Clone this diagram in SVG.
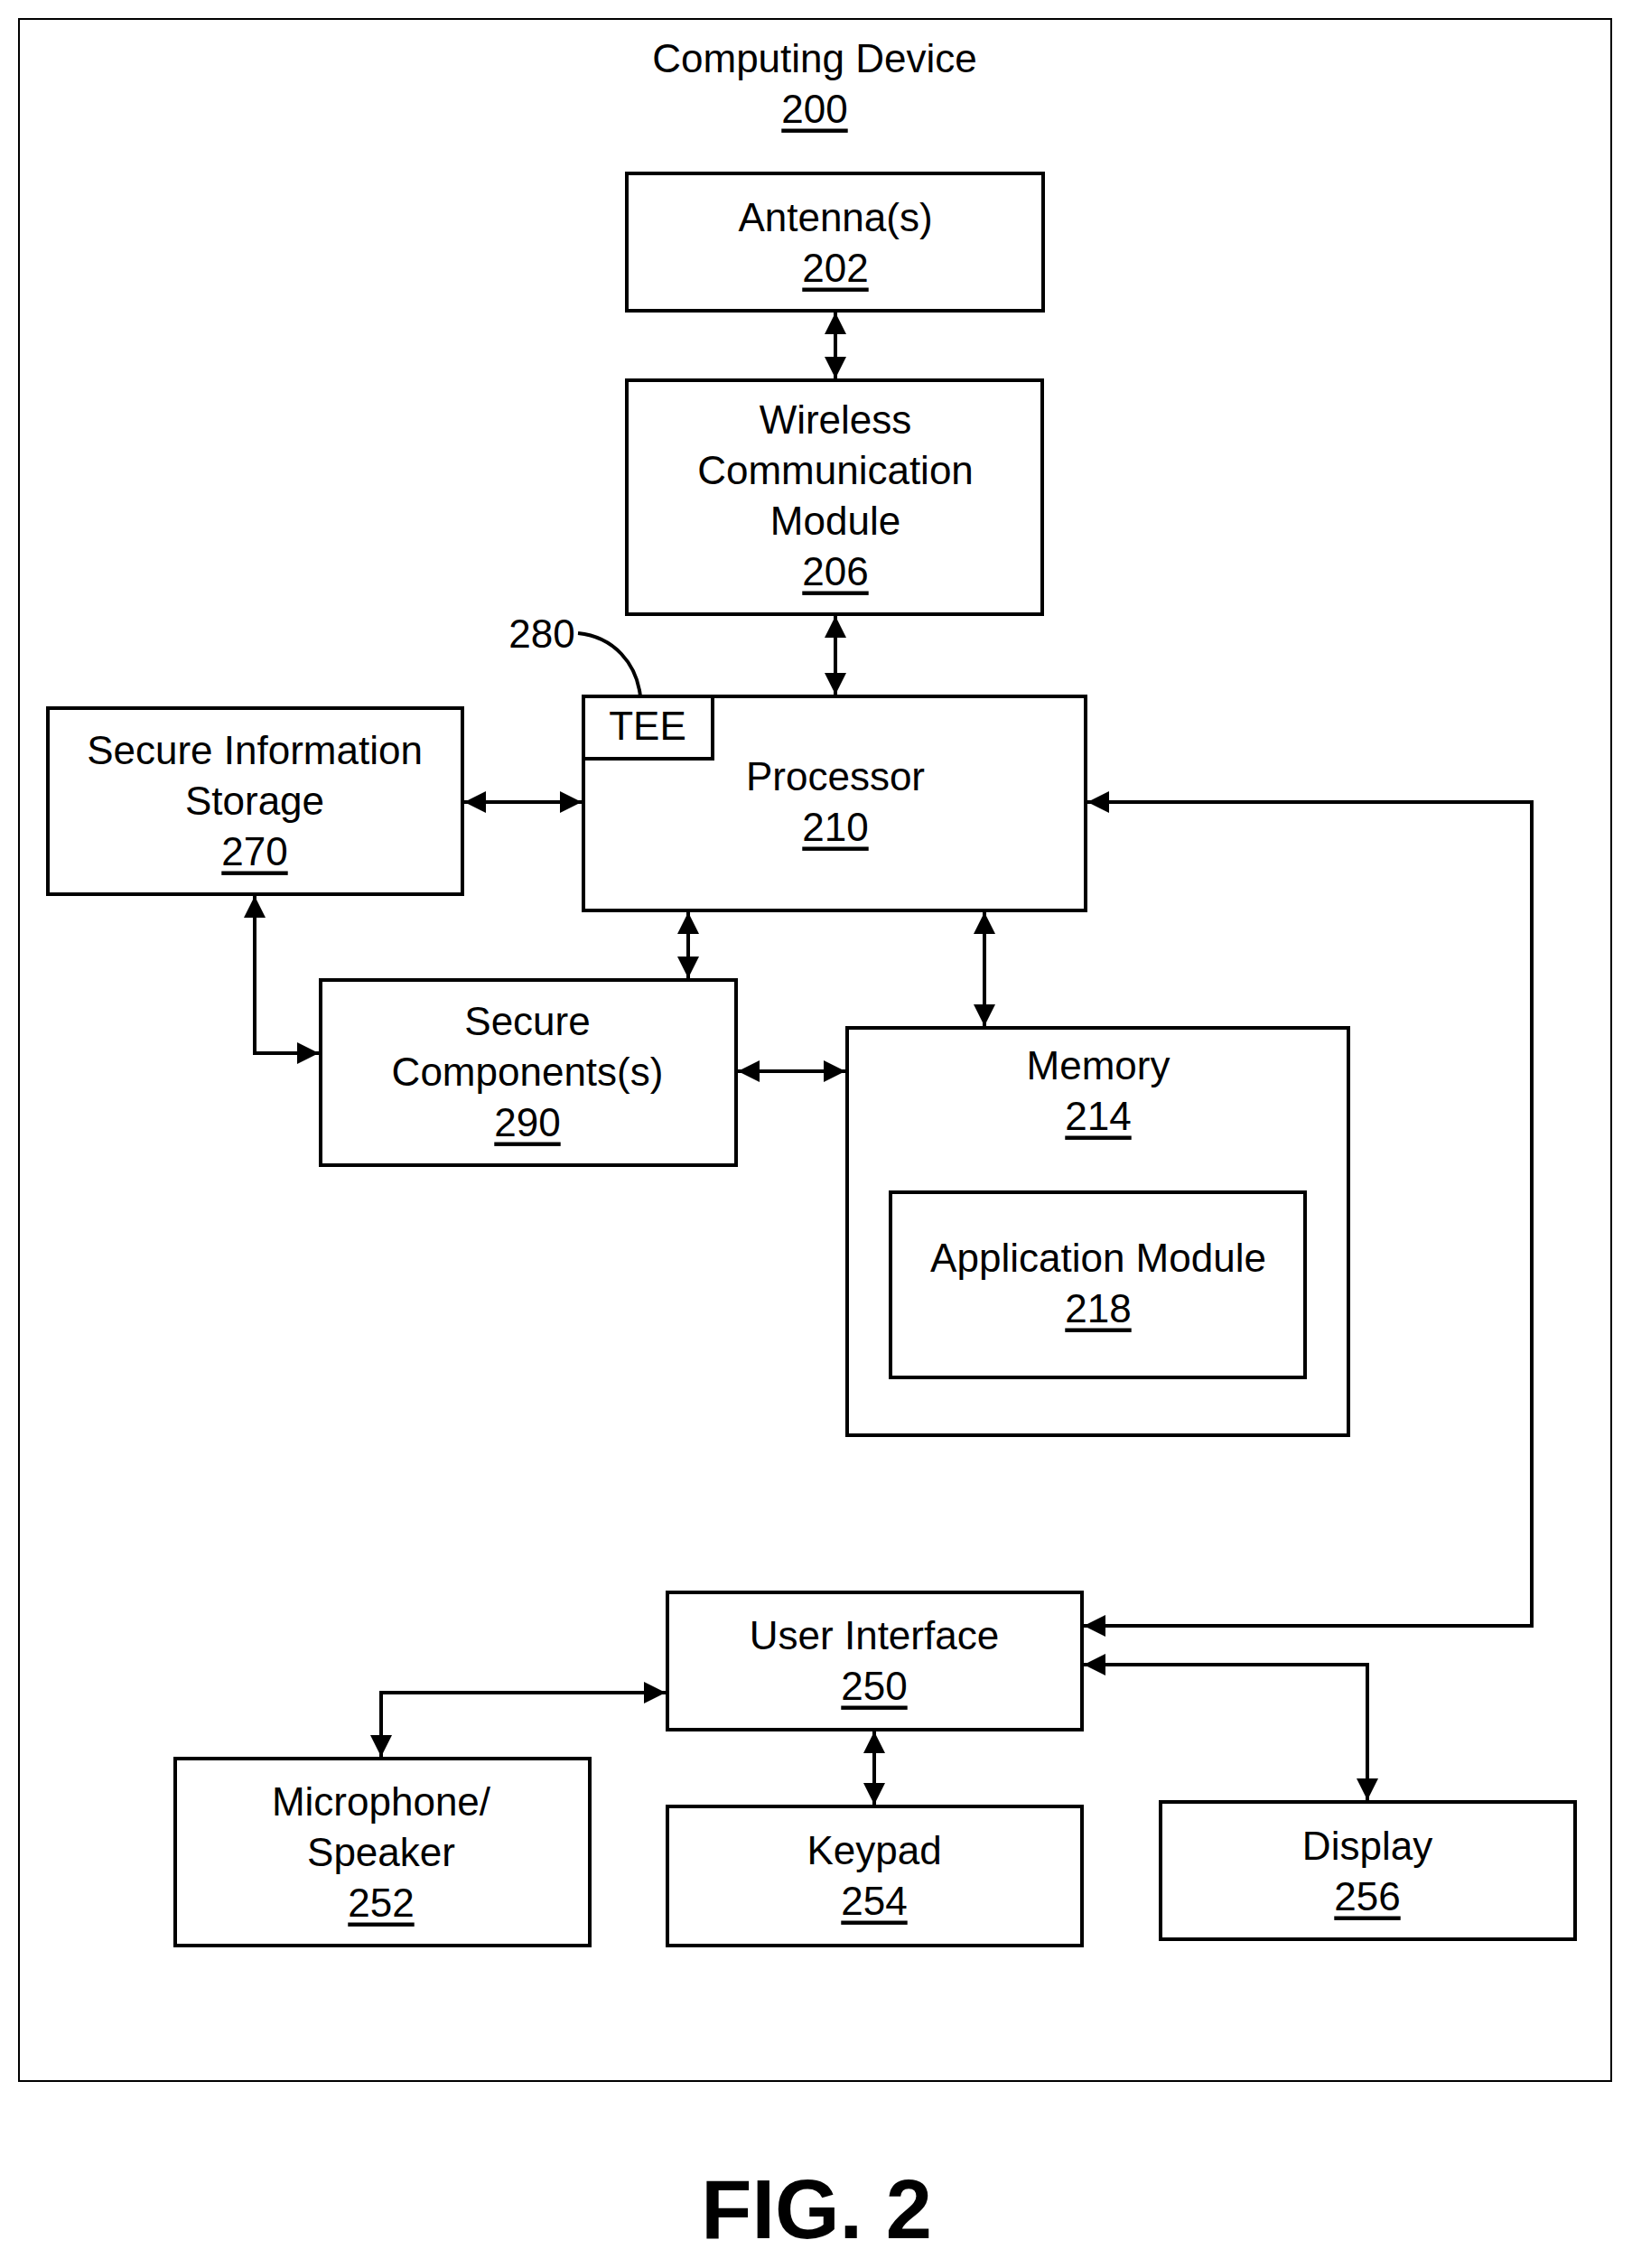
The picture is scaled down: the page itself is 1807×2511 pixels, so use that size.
<svg xmlns="http://www.w3.org/2000/svg" width="1807" height="2511" viewBox="0 0 1807 2511">
<style>
.b{fill:none;stroke:#000;stroke-width:4}
.t{font-family:"Liberation Sans",Arial,sans-serif;font-size:44px;text-anchor:middle;fill:#000;dominant-baseline:central}
.u{text-decoration:underline}
.c{fill:none;stroke:#000;stroke-width:4}
</style>
<defs>
<marker id="a" viewBox="0 0 10 10" refX="10" refY="5" markerWidth="6" markerHeight="6" orient="auto-start-reverse" markerUnits="strokeWidth"><path d="M0,0L10,5L0,10z" fill="#000"/></marker>
</defs>
<rect x="21" y="21" width="1763" height="2283" fill="none" stroke="#000" stroke-width="2"/>
<g id="device"><text class="t" x="902" y="64">Computing Device</text><text class="t u" x="902" y="120">200</text></g>
<g id="antenna"><rect class="b" x="694" y="192" width="461" height="152"/><text class="t" x="925" y="240">Antenna(s)</text><text class="t u" x="925" y="296">202</text></g>
<g id="wireless"><rect class="b" x="694" y="421" width="460" height="259"/><text class="t" x="925" y="464">Wireless</text><text class="t" x="925" y="520">Communication</text><text class="t" x="925" y="576">Module</text><text class="t u" x="925" y="632">206</text></g>
<g id="processor"><rect class="b" x="646" y="771" width="556" height="237"/><rect class="b" x="646" y="771" width="143" height="69"/><text class="t" x="717" y="803">TEE</text><text class="t" x="925" y="859">Processor</text><text class="t u" x="925" y="915">210</text></g>
<g id="label280"><text class="t" x="600" y="701">280</text><path class="b" d="M640,701 C680,705 705,735 709,771" stroke-width="2"/></g>
<g id="sis"><rect class="b" x="53" y="784" width="459" height="206"/><text class="t" x="282" y="830">Secure Information</text><text class="t" x="282" y="886">Storage</text><text class="t u" x="282" y="942">270</text></g>
<g id="sc"><rect class="b" x="355" y="1085" width="460" height="205"/><text class="t" x="584" y="1130">Secure</text><text class="t" x="584" y="1186">Components(s)</text><text class="t u" x="584" y="1242">290</text></g>
<g id="memory"><rect class="b" x="938" y="1138" width="555" height="451"/><text class="t" x="1216" y="1179">Memory</text><text class="t u" x="1216" y="1235">214</text></g>
<g id="app"><rect class="b" x="986" y="1320" width="459" height="205"/><text class="t" x="1216" y="1392">Application Module</text><text class="t u" x="1216" y="1448">218</text></g>
<g id="ui"><rect class="b" x="739" y="1763" width="459" height="152"/><text class="t" x="968" y="1810">User Interface</text><text class="t u" x="968" y="1866">250</text></g>
<g id="mic"><rect class="b" x="194" y="1947" width="459" height="207"/><text class="t" x="422" y="1994">Microphone/</text><text class="t" x="422" y="2050">Speaker</text><text class="t u" x="422" y="2106">252</text></g>
<g id="keypad"><rect class="b" x="739" y="2000" width="459" height="154"/><text class="t" x="968" y="2048">Keypad</text><text class="t u" x="968" y="2104">254</text></g>
<g id="display"><rect class="b" x="1285" y="1995" width="459" height="152"/><text class="t" x="1514" y="2043">Display</text><text class="t u" x="1514" y="2099">256</text></g>
<g id="connectors">
<path class="c" d="M925,346V419" marker-start="url(#a)" marker-end="url(#a)"/>
<path class="c" d="M925,682V769" marker-start="url(#a)" marker-end="url(#a)"/>
<path class="c" d="M514,888H644" marker-start="url(#a)" marker-end="url(#a)"/>
<path class="c" d="M762,1010V1083" marker-start="url(#a)" marker-end="url(#a)"/>
<path class="c" d="M282,992V1166H353" marker-start="url(#a)" marker-end="url(#a)"/>
<path class="c" d="M1090,1010V1136" marker-start="url(#a)" marker-end="url(#a)"/>
<path class="c" d="M817,1186H936" marker-start="url(#a)" marker-end="url(#a)"/>
<path class="c" d="M1204,888H1696V1800H1200" marker-start="url(#a)" marker-end="url(#a)"/>
<path class="c" d="M1200,1843H1514V1993" marker-start="url(#a)" marker-end="url(#a)"/>
<path class="c" d="M968,1917V1998" marker-start="url(#a)" marker-end="url(#a)"/>
<path class="c" d="M737,1874H422V1945" marker-start="url(#a)" marker-end="url(#a)"/>
</g>
<text x="904" y="2478" font-family="'Liberation Sans',Arial,sans-serif" font-size="92" font-weight="bold" text-anchor="middle">FIG. 2</text>
</svg>
